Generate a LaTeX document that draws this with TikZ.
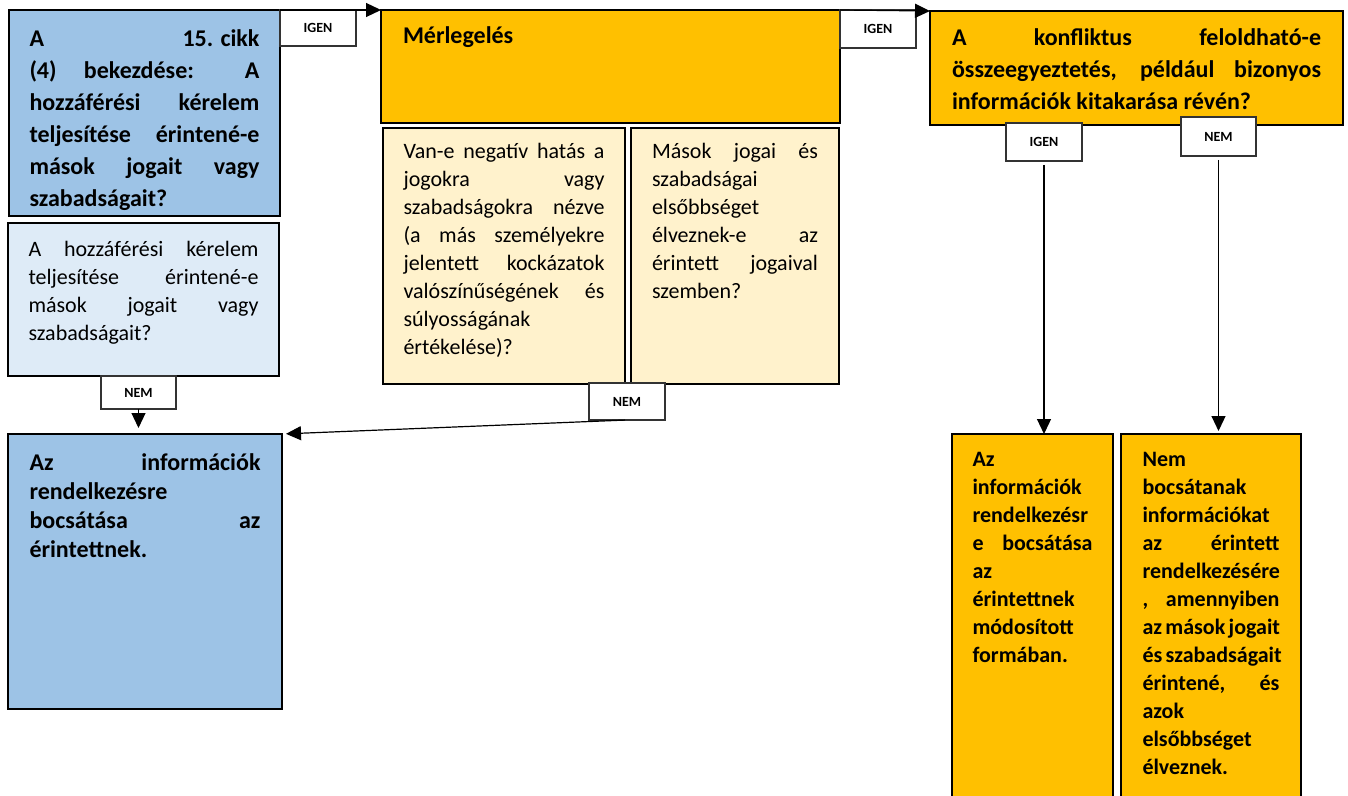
\documentclass[tikz,border=0pt]{standalone}
\usepackage{fontspec}
\setmainfont{Carlito}
\usetikzlibrary{arrows.meta}

\definecolor{blueA}{HTML}{9DC3E6}
\definecolor{blueB}{HTML}{DEEBF7}
\definecolor{gold}{HTML}{FFC000}
\definecolor{cream}{HTML}{FFF2CC}

% one justified line, one plain line
\newcommand{\jline}[1]{\makebox[\linewidth][s]{\strut #1}\\}
\newcommand{\fline}[1]{\strut #1\\}
% height, width, top gap, text
\newcommand{\boxtxt}[4]{\parbox[c][#1][t]{#2}{\vspace*{#3}#4}}

\tikzset{
  box/.style={draw, line width=0.8pt, anchor=north west, inner ysep=0pt, outer sep=0pt},
  lbl/.style={draw=black!80, fill=white, line width=0.6pt, anchor=north west,
    inner sep=0pt, outer sep=0pt, font=\fontsize{7}{8}\selectfont\bfseries},
  arr/.style={-{Triangle[length=7.5pt,width=7pt]}, line width=0.6pt}
}

\begin{document}
\begin{tikzpicture}[x=0.5pt, y=-0.5pt]

        \useasboundingbox (0,0) rectangle (1348,796);

        % left column
        \node[box, fill=blueA, inner xsep=10.25pt] (q1) at (9,10)
          {\boxtxt{103pt}{115pt}{7pt}{\fontsize{12}{16}\selectfont\bfseries
            \jline{A \mbox{15. cikk}}
            \jline{(4) bekezdése: A}
            \jline{hozzáférési kérelem}
            \jline{teljesítése érintené-e}
            \jline{mások jogait vagy}
            \strut szabadságait?}};
        \node[box, fill=blueB, inner xsep=10.25pt] (q2) at (8,223)
          {\boxtxt{76.5pt}{115pt}{6.95pt}{\fontsize{11}{14}\selectfont
            \jline{A hozzáférési kérelem}
            \jline{teljesítése érintené-e}
            \jline{mások jogait vagy}
            \strut szabadságait?}};
        \node[box, fill=blueA, inner xsep=10.75pt] (b1) at (8,434)
          {\boxtxt{137.5pt}{115.5pt}{7.85pt}{\fontsize{12}{14.5}\selectfont\bfseries
            \jline{Az információk}
            \fline{rendelkezésre}
            \jline{bocsátása az}
            \strut érintettnek.}};

        % middle column
        \node[box, fill=gold, inner xsep=11pt] (m) at (381,10)
          {\boxtxt{56.5pt}{207.5pt}{5.5pt}{\fontsize{12}{16}\selectfont\bfseries
            \strut Mérlegelés}};
        \node[box, fill=cream, inner xsep=10.25pt] (a1) at (383,128)
          {\boxtxt{128pt}{100.5pt}{5.7pt}{\fontsize{11}{14}\selectfont
            \jline{Van-e negatív hatás a}
            \jline{jogokra vagy}
            \jline{szabadságokra nézve}
            \jline{(a más személyekre}
            \jline{jelentett kockázatok}
            \jline{valószínűségének és}
            \fline{súlyosságának}
            \strut értékelése)?}};
        \node[box, fill=cream, inner xsep=10.5pt] (a2) at (631,128)
          {\boxtxt{128pt}{83pt}{5.7pt}{\fontsize{11}{14}\selectfont
            \jline{Mások jogai és}
            \fline{szabadságai}
            \fline{elsőbbséget}
            \jline{élveznek-e az}
            \jline{érintett jogaival}
            \strut szemben?}};

        % right column
        \node[box, fill=gold, inner xsep=11pt] (c) at (930,11)
          {\boxtxt{57pt}{184.5pt}{6pt}{\fontsize{12}{16}\selectfont\bfseries
            \jline{A konfliktus feloldható-e}
            \jline{összeegyeztetés, például bizonyos}
            \strut információk kitakarása révén?}};
        \node[box, fill=gold, inner xsep=10.25pt] (r1) at (952,434)
          {\boxtxt{183pt}{60pt}{6.45pt}{\fontsize{11}{14}\selectfont\bfseries
            \fline{Az}
            \fline{információk}
            \fline{rendelkezésr}
            \jline{e bocsátása}
            \fline{az}
            \fline{érintettnek}
            \fline{módosított}
            \strut formában.}};
        \node[box, fill=gold, inner xsep=10.75pt] (r2) at (1121,434)
          {\boxtxt{183pt}{68.5pt}{6.45pt}{\fontsize{11}{14}\selectfont\bfseries
            \fline{Nem}
            \fline{bocsátanak}
            \fline{információkat}
            \jline{az érintett}
            \fline{rendelkezésére}
            \jline{, amennyiben}
            \jline{az mások jogait}
            \jline{és szabadságait}
            \jline{érintené, és}
            \fline{azok}
            \fline{elsőbbséget}
            \strut élveznek.}};

        % answer labels
        \node[lbl, minimum width=38pt, minimum height=18pt] (g1) at (280,10) {IGEN};
        \node[lbl, minimum width=38pt, minimum height=19pt] (g2) at (840,10) {IGEN};
        \node[lbl, minimum width=38pt, minimum height=19pt] (g3) at (1006,123) {IGEN};
        \node[lbl, minimum width=37.5pt, minimum height=19.5pt] (n3) at (1181,117) {NEM};
        \node[lbl, minimum width=37.5pt, minimum height=16.5pt] (n1) at (101,376) {NEM};
        \node[lbl, minimum width=38pt, minimum height=18.5pt] (n2) at (589,383) {NEM};

        % connectors
        \draw[arr] (q1.north east) -- (m.north west);
        \draw[arr] (m.north east) -- (c.north west);
        \draw[arr, shorten <=2pt] (g3.south) -- (g3.south |- r1.north);
        \draw[arr, shorten <=2pt, shorten >=1.5pt] (n3.south) -- (n3.south |- r2.north);
        \draw[arr, shorten >=3pt] (n1.south) -- (n1.south |- b1.north);
        \draw[arr, shorten <=1pt, shorten >=2pt] (n2.south) -- (b1.north east);

      \end{tikzpicture}
\end{document}
